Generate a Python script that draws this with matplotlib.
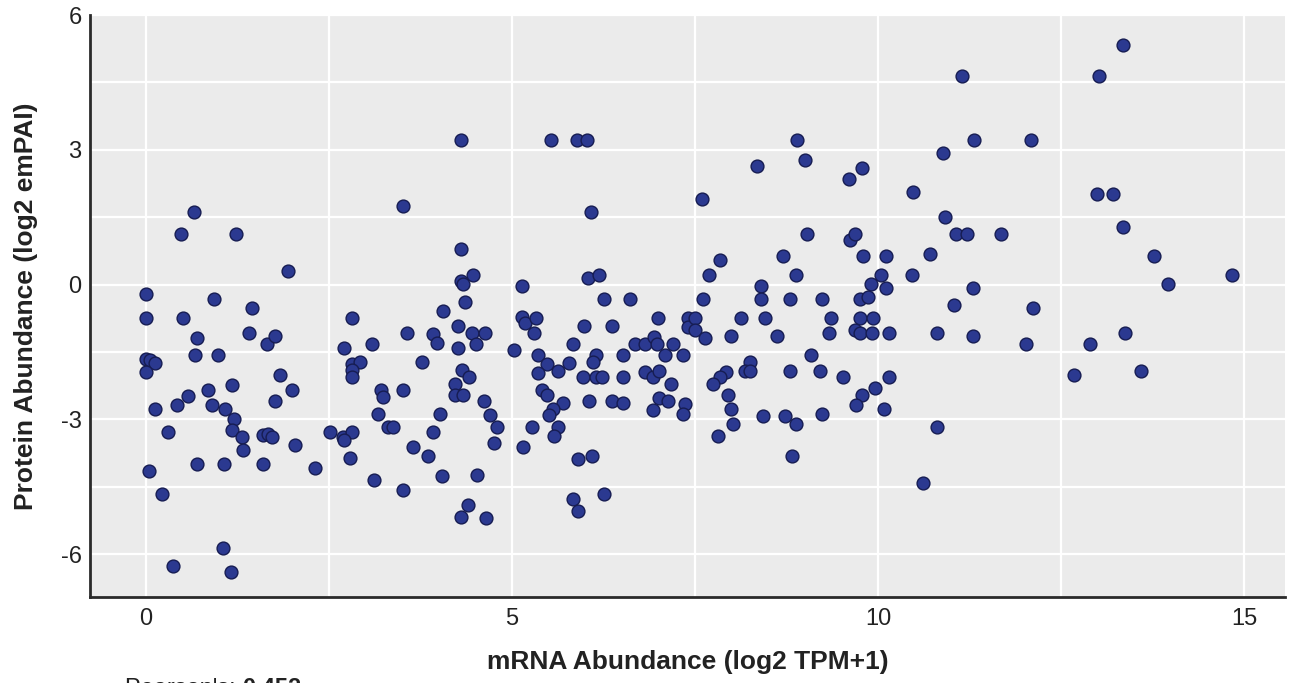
import matplotlib
matplotlib.use("Agg")
import matplotlib.pyplot as plt
from matplotlib.ticker import MultipleLocator

plt.rcParams['font.family'] = ['Liberation Sans', 'DejaVu Sans']
plt.rcParams['axes.unicode_minus'] = False

# mRNA abundance (log2 TPM+1)
mrna = [
    0.66, 0.48, 1.23, 1.94, 0.00, 0.93, 1.45,
    0.00, 0.50, 2.81, 0.70, 1.41, 1.65, 1.76, 2.70, 3.09, 0.67, 0.98, 0.00, 0.05,
    0.12, 0.00, 1.83, 2.81, 2.92, 2.81, 2.81, 1.17, 2.00, 0.85, 0.57, 0.42, 0.12,
    0.90, 1.08, 1.76, 3.21, 3.24, 3.17, 3.31, 1.20, 0.30, 1.17, 1.31, 1.33, 1.60,
    1.67, 1.72, 2.04, 2.51, 2.69, 2.81, 2.70, 2.79, 0.70, 1.07, 1.60, 2.31, 0.04,
    3.11, 0.22, 1.05, 0.37, 1.16,
    4.30, 5.53, 5.89, 6.02, 3.51, 6.08, 4.30, 4.47, 4.30, 4.33, 4.36, 4.06, 5.14,
    6.04, 6.19, 6.26, 6.61,
    3.57, 3.92, 3.97, 4.26, 4.45, 4.63, 4.51, 4.26, 5.14, 5.18, 5.33, 5.30, 5.03,
    5.98, 6.37, 5.83, 6.99, 7.40, 7.40, 3.77, 5.36, 5.48, 5.36, 5.63, 5.78, 6.15,
    6.11, 6.52, 6.68, 6.82, 6.94, 6.98, 7.20, 7.09, 7.34, 4.32, 4.41, 3.51, 4.22,
    4.22, 4.33, 4.62, 5.97, 6.15, 6.23, 6.52, 6.82, 6.93, 7.01, 7.17, 5.41, 5.48,
    5.70, 5.56, 5.51, 6.05, 6.37, 6.52, 7.01, 7.13, 6.93, 7.36, 7.34, 4.02, 4.70,
    4.80, 3.37, 3.92, 4.75, 5.27, 5.63, 5.57, 5.15, 3.65, 3.85, 5.90, 6.09, 4.04,
    4.52, 3.51, 5.83, 5.90, 6.26, 4.40, 4.30, 4.64,
    11.15, 11.31, 8.89, 9.00, 10.89, 8.35, 9.60, 9.78, 7.60, 10.48, 10.92, 9.03,
    9.62, 9.69, 11.07, 11.22, 7.84, 7.69, 8.70, 8.88, 9.80, 10.11, 10.71, 10.04,
    9.90, 10.11, 10.46, 11.30, 8.40, 7.61, 8.40, 8.80, 9.23, 9.75, 9.86, 11.04,
    7.50, 7.50, 8.13, 8.46, 9.36, 9.75, 9.93, 7.64, 7.99, 8.62, 9.33, 9.69, 9.75,
    9.92, 10.15, 10.81, 11.30, 9.08, 8.25, 8.18, 8.25, 7.92, 7.84, 7.75, 8.80,
    9.21, 9.52, 10.15, 9.96, 9.78, 9.70, 10.08, 7.95, 7.99, 8.43, 8.73, 8.88,
    9.23, 8.02, 7.81, 8.82, 10.81, 10.61,
    13.35, 13.02, 12.09, 12.99, 13.21, 11.68, 13.35, 13.77, 13.96, 14.84, 12.12,
    12.02, 12.90, 13.37, 12.68, 13.59,
]

# protein abundance (log2 emPAI)
protein = [
    1.62, 1.13, 1.13, 0.31, -0.20, -0.33, -0.53,
    -0.75, -0.75, -0.75, -1.19, -1.08, -1.33, -1.15, -1.40, -1.33, -1.57, -1.57,
    -1.66, -1.68, -1.75, -1.95, -2.01, -1.77, -1.73, -1.90, -2.06, -2.23, -2.35,
    -2.35, -2.48, -2.68, -2.76, -2.68, -2.76, -2.59, -2.35, -2.50, -2.87, -3.16,
    -3.00, -3.27, -3.23, -3.40, -3.69, -3.34, -3.32, -3.38, -3.56, -3.27, -3.38,
    -3.27, -3.45, -3.85, -4.00, -3.98, -4.00, -4.09, -4.14, -4.34, -4.65, -5.86,
    -6.26, -6.39,
    3.21, 3.21, 3.21, 3.21, 1.75, 1.62, 0.80, 0.22, 0.09, 0.02, -0.38, -0.58,
    -0.04, 0.15, 0.22, -0.33, -0.33,
    -1.08, -1.10, -1.30, -0.91, -1.08, -1.08, -1.33, -1.40, -0.73, -0.86, -0.75,
    -1.08, -1.46, -0.91, -0.91, -1.33, -0.75, -0.75, -0.95, -1.73, -1.57, -1.77,
    -1.97, -1.92, -1.75, -1.57, -1.73, -1.57, -1.33, -1.33, -1.17, -1.33, -1.33,
    -1.57, -1.57, -1.90, -2.06, -2.35, -2.21, -2.46, -2.46, -2.59, -2.06, -2.06,
    -2.06, -2.06, -1.95, -2.06, -1.92, -2.21, -2.35, -2.46, -2.63, -2.76, -2.90,
    -2.59, -2.59, -2.63, -2.52, -2.59, -2.79, -2.65, -2.87, -2.87, -2.90, -3.16,
    -3.16, -3.27, -3.52, -3.16, -3.16, -3.36, -3.61, -3.61, -3.81, -3.89, -3.81,
    -4.25, -4.23, -4.56, -4.76, -5.04, -4.65, -4.91, -5.18, -5.20,
    4.65, 3.21, 3.21, 2.77, 2.92, 2.63, 2.35, 2.59, 1.90, 2.06, 1.50, 1.13,
    1.00, 1.13, 1.13, 1.13, 0.55, 0.22, 0.64, 0.22, 0.64, 0.64, 0.69, 0.22,
    0.02, -0.07, 0.22, -0.07, -0.02, -0.33, -0.33, -0.33, -0.33, -0.33, -0.27, -0.46,
    -0.75, -1.02, -0.75, -0.75, -0.75, -0.75, -0.75, -1.19, -1.15, -1.15, -1.08,
    -1.00, -1.08, -1.08, -1.08, -1.08, -1.15, -1.57, -1.73, -1.92, -1.92, -1.95,
    -2.06, -2.21, -1.92, -1.92, -2.06, -2.06, -2.30, -2.46, -2.68, -2.76, -2.46,
    -2.76, -2.92, -2.92, -3.10, -2.87, -3.10, -3.36, -3.81, -3.16, -4.42,
    5.33, 4.65, 3.21, 2.01, 2.01, 1.13, 1.28, 0.64, 0.02, 0.22, -0.53,
    -1.33, -1.33, -1.08, -2.01, -1.92,
]

pearson = 0.452

fig = plt.figure(figsize=(12.9, 6.83), dpi=100)
ax = fig.add_axes([90 / 1290, 86 / 683, 1195 / 1290, 582 / 683])
ax.set_facecolor('#ebebeb')

ax.scatter(mrna, protein, s=85, color='#2b3990', edgecolors='#161c52',
           linewidths=1.0, zorder=3, clip_on=False)

ax.set_xlim(-0.765, 15.56)
ax.set_ylim(-6.95, 6.0)
ax.xaxis.set_major_locator(MultipleLocator(5))
ax.xaxis.set_minor_locator(MultipleLocator(2.5))
ax.yaxis.set_major_locator(MultipleLocator(3))
ax.yaxis.set_minor_locator(MultipleLocator(1.5))
ax.grid(True, which='both', color='white', linewidth=1.6, zorder=0)
ax.set_axisbelow(True)
ax.tick_params(which='both', length=0, labelsize=17, colors='#222222')
ax.tick_params(axis='x', pad=8)
ax.tick_params(axis='y', pad=6)

for side in ['top', 'right']:
    ax.spines[side].set_visible(False)
for side in ['left', 'bottom']:
    ax.spines[side].set_color('#2a2a2a')
    ax.spines[side].set_linewidth(2)

ax.set_xlabel('mRNA Abundance (log2 TPM+1)', fontsize=19, fontweight='bold',
              color='#222222', labelpad=14)
ax.set_ylabel('Protein Abundance (log2 emPAI)', fontsize=19, fontweight='bold',
              color='#222222', labelpad=16)

# correlation note, partly cut by the bottom edge as in the source
t1 = fig.text(125 / 1290, -0.017, "Pearson's: ", fontsize=17, color='#222222')
fig.canvas.draw()
bb = t1.get_window_extent()
fig.text(bb.x1 / fig.bbox.width, -0.017, f'{pearson:.3f}', fontsize=17,
         fontweight='bold', color='#222222')

fig.savefig('out.png', dpi=100)
